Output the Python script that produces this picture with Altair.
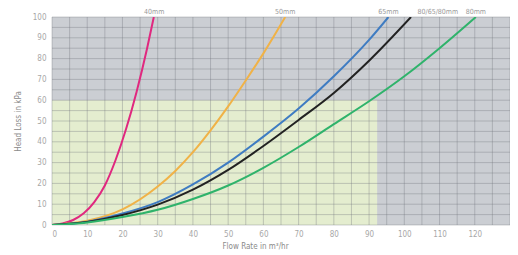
import altair as alt
import pandas as pd

# ---- data ----
pink_x = [0, 3, 6, 9, 12, 15, 18, 21, 24, 27, 28.9]
pink_y = [0, 0.7, 2.4, 5.6, 11, 19, 31, 46, 64, 85, 100]

yellow_x = [0, 10, 20, 30, 35, 40, 45, 50, 55, 60, 66.2]
yellow_y = [0, 2, 7.5, 18.5, 26, 35, 45.5, 57, 69.5, 82.5, 100]

blue_x = [0, 10, 20, 30, 40, 50, 60, 70, 80, 90, 95.5]
blue_y = [0, 1.6, 5.5, 11, 19.5, 30, 42.5, 56, 71.5, 89, 100]

black_x = [0, 10, 20, 30, 40, 50, 60, 70, 80, 90, 101.9]
black_y = [0, 1.5, 4.8, 9.8, 17, 26.5, 38, 50.5, 63.5, 79, 100]

green_x = [0, 10, 20, 30, 40, 50, 60, 70, 80, 90, 100, 110, 120.3]
green_y = [0, 1.2, 3.8, 7.3, 12.5, 19, 27.5, 37.5, 48.5, 59.5, 71.5, 85, 100]

series_names = ["40mm", "50mm", "65mm", "80/65/80mm", "80mm"]
series_colors = ["#e0287f", "#f0b247", "#3f7cc2", "#222222", "#2fb36b"]
series_x = [pink_x, yellow_x, blue_x, black_x, green_x]
series_y = [pink_y, yellow_y, blue_y, black_y, green_y]

label_names = ["40mm", "50mm", "65mm", "80/65/80mm", "80mm"]
label_x = [29, 66.2, 95.5, 109.5, 120.3]

x_ticks = [0, 10, 20, 30, 40, 50, 60, 70, 80, 90, 100, 110, 120]
y_ticks = [0, 10, 20, 30, 40, 50, 60, 70, 80, 90, 100]

zone_x2 = [92.3]
zone_y2 = [60]

x_grid = list(range(0, 135, 5))
y_grid = list(range(0, 105, 5))

rows = []
for n, xs_, ys_ in zip(series_names, series_x, series_y):
    for i, (a, b) in enumerate(zip(xs_, ys_)):
        rows.append({"series": n, "x": a, "y": b, "order": i})
df = pd.DataFrame(rows)

FONT = "DejaVu Sans Condensed, Liberation Sans Narrow, Liberation Sans, sans-serif"

xs = alt.Scale(domain=[0, 130], nice=False, zero=False)
ys = alt.Scale(domain=[0, 100], nice=False)

xaxis = alt.Axis(values=x_ticks, grid=False, ticks=False, domain=False,
                 labelColor="#a8a8a8", labelFontSize=8, labelPadding=5, labelFont=FONT,
                 labelOverlap=False,
                 title="Flow Rate in m³/hr", titleColor="#8a8a8a", titleFontSize=8,
                 titleFont=FONT, titleFontWeight="normal", titleX=203, titlePadding=4)
yaxis = alt.Axis(values=y_ticks, grid=False, ticks=False, domain=False,
                 labelColor="#a8a8a8", labelFontSize=8, labelPadding=6, labelFont=FONT,
                 labelOverlap=False,
                 title="Head Loss in kPa", titleColor="#8a8a8a", titleFontSize=8,
                 titleFont=FONT, titleFontWeight="normal", titlePadding=10)

W, H = 458, 208

bg = alt.Chart(pd.DataFrame({"x": [0], "x2": [130], "y": [0], "y2": [100]})).mark_rect(
    color="#cbced3").encode(
    x=alt.X("x:Q", scale=xs, axis=xaxis), x2="x2:Q",
    y=alt.Y("y:Q", scale=ys, axis=yaxis), y2="y2:Q")

zone = alt.Chart(pd.DataFrame({"x": [0], "x2": zone_x2, "y": [0], "y2": zone_y2})).mark_rect(
    color="#e4edcf").encode(x=alt.X("x:Q", scale=xs, axis=xaxis), x2="x2:Q",
                            y=alt.Y("y:Q", scale=ys, axis=yaxis), y2="y2:Q")

vgrid = alt.Chart(pd.DataFrame({"g": x_grid})).mark_rule(
    color="#6f747a", opacity=0.35, strokeWidth=1).encode(
    x=alt.X("g:Q", scale=xs, axis=xaxis))
hgrid = alt.Chart(pd.DataFrame({"g": y_grid})).mark_rule(
    color="#6f747a", opacity=0.35, strokeWidth=1).encode(
    y=alt.Y("g:Q", scale=ys, axis=yaxis))

lines = alt.Chart(df).mark_line(strokeWidth=2, interpolate="monotone", clip=True).encode(
    x=alt.X("x:Q", scale=xs, axis=xaxis),
    y=alt.Y("y:Q", scale=ys, axis=yaxis),
    color=alt.Color("series:N", scale=alt.Scale(domain=series_names, range=series_colors),
                    legend=None),
    order="order:Q",
    detail="series:N")

labels = alt.Chart(pd.DataFrame({"name": label_names, "x": label_x})).mark_text(
    fontSize=7, color="#9a9a9a", baseline="middle", align="center", font=FONT).encode(
    x=alt.X("x:Q", scale=xs, axis=xaxis), y=alt.value(-5), text="name:N")

chart = alt.layer(bg, zone, vgrid, hgrid, lines, labels).properties(
    width=W, height=H,
    autosize=alt.AutoSizeParams(type="none"),
    padding={"left": 44, "top": 9, "right": 0, "bottom": 30},
).configure_view(stroke=None).configure_axis(labelOverlap=False)

chart.save("out.html", embed_options={"renderer": "svg", "actions": False})
